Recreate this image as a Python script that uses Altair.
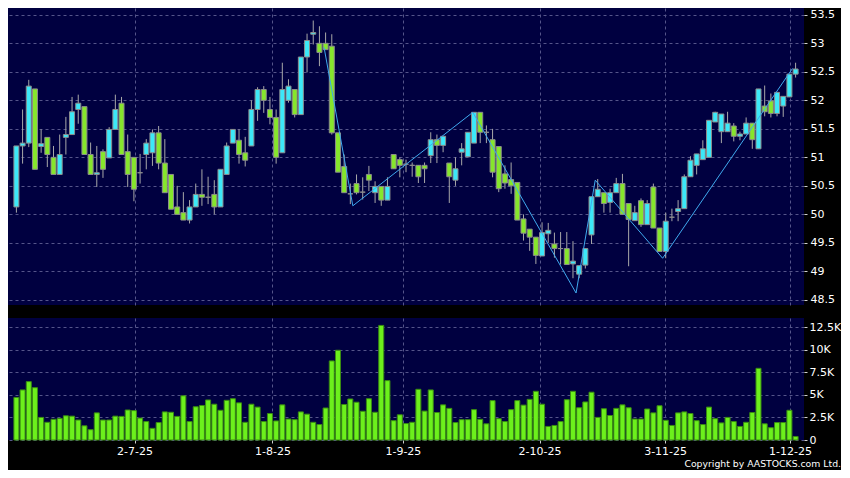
import altair as alt
import pandas as pd

# ---------------- data ----------------
# tick positions expressed in bar-index units (first bar = 0)
tick_idx = [19.1, 41.4, 62.5, 84.6, 104.9, 125.1]
tick_labels = ["2-7-25", "1-8-25", "1-9-25", "2-10-25", "3-11-25", "1-12-25"]

opens = [
    50.13, 51.2, 51.25, 52.2, 51.19, 51.35, 51.0, 50.7, 51.35, 51.4,
    51.84, 51.89, 51.05, 50.7, 51.1, 50.99, 51.49, 51.95, 51.1, 51.0,
    50.73, 51.05, 51.08, 51.43, 50.9, 50.7, 50.13, 50.03, 49.9, 50.13,
    50.35, 50.3, 50.35, 50.13, 50.7, 51.25, 51.3, 51.08, 51.2, 51.84,
    52.19, 51.84, 51.7, 51.08, 52.0, 52.19, 51.75, 52.76, 53.16, 53.0,
    53.0, 52.95, 51.43, 50.84, 50.36, 50.54, 50.39, 50.7, 50.38, 50.49,
    50.25, 51.05, 50.96, 50.88, 50.86, 50.86, 50.86, 51.03, 51.31, 51.21, 50.9,
    50.6, 51.09, 51.01, 51.25, 51.79, 51.44, 51.31, 51.19, 50.71, 50.61,
    50.56, 49.92, 49.74, 49.6, 49.27, 49.66, 49.48, 49.4, 49.4, 49.13,
    48.95, 49.11, 49.64, 50.31, 50.38, 50.21, 50.38, 50.54, 50.19, 49.89,
    50.24, 49.82, 50.48, 49.76, 49.35, 49.95, 50.05, 50.1, 50.66, 50.86,
    50.96, 51.0, 51.62, 51.45, 51.45, 51.55, 51.37, 51.41, 51.6, 51.15,
    51.9, 51.99, 51.77, 51.9, 52.06, 52.46,
]
highs = [
    51.2, 51.84, 52.36, 52.2, 51.49, 51.35, 51.2, 51.4, 51.71, 52.06,
    52.1, 51.89, 51.26, 51.2, 51.14, 51.53, 52.1, 52.06, 51.4, 51.0,
    51.06, 51.32, 51.49, 51.55, 51.32, 50.7, 50.5, 50.39, 50.25, 50.54,
    50.79, 50.66, 50.6, 50.79, 51.26, 51.49, 51.49, 51.36, 52.0, 52.23,
    52.25, 52.06, 51.84, 52.66, 52.37, 52.19, 52.76, 53.17, 53.4, 53.3,
    53.19, 53.16, 51.43, 51.05, 50.54, 50.7, 50.65, 50.85, 50.58, 50.49,
    50.65, 51.05, 51.0, 50.96, 50.91, 50.86, 50.91, 51.44, 51.4, 51.37, 50.9,
    51.0, 51.25, 51.44, 51.79, 51.79, 51.56, 51.5, 51.19, 50.86, 50.91,
    50.56, 50.0, 49.74, 49.6, 49.86, 49.85, 49.68, 49.69, 49.69, 49.53,
    49.1, 49.4, 50.31, 50.62, 50.38, 50.45, 50.64, 50.71, 50.19, 50.15,
    50.28, 50.25, 50.54, 49.76, 50.03, 50.1, 50.25, 50.7, 51.02, 51.06,
    51.3, 51.65, 51.8, 51.76, 51.8, 51.6, 51.45, 51.7, 51.6, 52.2,
    52.26, 52.12, 52.14, 52.07, 52.46, 52.66,
]
lows = [
    50.03, 50.89, 51.18, 50.79, 51.08, 50.83, 50.7, 50.7, 51.05, 51.4,
    51.59, 51.05, 50.7, 50.48, 50.64, 50.99, 51.49, 51.05, 50.48, 50.23,
    50.54, 50.79, 50.85, 50.79, 50.38, 50.09, 50.0, 49.9, 49.84, 50.13,
    50.15, 50.18, 50.0, 50.13, 50.7, 51.25, 50.89, 50.84, 51.2, 51.64,
    51.78, 51.58, 50.89, 51.08, 51.96, 51.7, 51.75, 52.49, 52.98, 52.6,
    52.89, 51.4, 50.74, 50.38, 50.18, 50.35, 50.26, 50.41, 50.2, 50.15,
    50.25, 50.8, 50.65, 50.74, 50.66, 50.55, 50.55, 50.9, 50.9, 51.09, 50.2,
    50.5, 50.86, 51.01, 51.25, 51.25, 51.25, 50.65, 50.39, 50.45, 50.36,
    49.9, 49.54, 49.36, 49.13, 49.27, 49.5, 49.24, 49.12, 49.12, 48.88,
    48.88, 49.05, 49.48, 50.31, 50.03, 50.03, 50.38, 50.0, 49.09, 49.89,
    49.78, 49.82, 49.76, 49.35, 49.23, 49.88, 49.88, 50.1, 50.66, 50.7,
    50.96, 51.0, 51.62, 51.25, 51.45, 51.28, 51.3, 51.41, 51.15, 51.15,
    51.72, 51.7, 51.72, 51.71, 52.06, 52.4,
]
closes = [
    51.2, 51.25, 52.25, 50.79, 51.24, 51.05, 50.7, 51.05, 51.4, 51.8,
    51.95, 51.05, 50.7, 50.73, 50.79, 51.49, 51.84, 51.05, 50.7, 50.44,
    50.73, 51.25, 51.43, 50.9, 50.38, 50.09, 50.0, 49.9, 50.13, 50.35,
    50.3, 50.3, 50.13, 50.79, 51.2, 51.49, 51.05, 50.95, 51.84, 52.19,
    52.0, 51.7, 51.0, 52.19, 52.25, 51.75, 52.76, 53.05, 53.19, 52.84,
    52.89, 51.43, 50.74, 50.38, 50.36, 50.38, 50.39, 50.6, 50.49, 50.25,
    50.49, 50.8, 50.86, 50.88, 50.86, 50.66, 50.8, 51.31, 51.21, 51.37, 50.66,
    50.8, 51.15, 51.44, 51.79, 51.44, 51.44, 50.74, 50.45, 50.55, 50.5,
    49.9, 49.67, 49.6, 49.28, 49.68, 49.72, 49.4, 49.4, 49.12, 49.18,
    49.1, 49.4, 50.31, 50.44, 50.19, 50.38, 50.54, 50.0, 49.91, 50.03,
    49.82, 50.19, 49.76, 49.35, 49.88, 49.95, 50.1, 50.66, 50.95, 51.06,
    51.15, 51.65, 51.79, 51.76, 51.6, 51.37, 51.41, 51.6, 51.31, 52.2,
    51.8, 51.77, 52.14, 52.07, 52.46, 52.55,
]
# volume in thousands
volumes_k = [
    4.71, 5.54, 6.46, 5.79, 2.5, 1.96, 2.29, 2.39, 2.68, 2.64,
    2.21, 1.57, 1.14, 3.0, 2.21, 2.21, 2.64, 2.61, 3.32, 3.25,
    2.43, 2.04, 1.29, 1.93, 3.11, 3.07, 2.61, 4.89, 2.04, 3.68,
    3.82, 4.43, 3.96, 3.29, 4.39, 4.57, 4.11, 1.96, 3.96, 3.64,
    2.04, 2.93, 2.11, 3.89, 2.32, 2.25, 3.11, 2.86, 1.96, 1.71,
    3.54, 8.75, 9.93, 3.93, 4.54, 4.18, 3.18, 4.57, 3.07, 12.68,
    6.57, 2.14, 2.79, 1.82, 1.96, 5.61, 3.2,
    5.54, 3.04, 3.89, 3.5, 1.93, 2.25, 2.25, 3.36, 2.29, 1.79,
    4.36, 2.36, 2.04, 3.36, 4.36, 3.86, 4.5, 5.39, 3.96, 1.5,
    1.61, 2.04, 4.46, 5.39, 3.57, 4.21, 5.29, 2.5, 3.46, 2.71,
    3.5, 3.89, 3.57, 2.32, 2.32, 3.43, 3.0, 3.79, 2.18, 1.61,
    3.0, 3.11, 2.93, 2.14, 1.71, 3.64, 2.36, 1.89, 2.5, 2.04,
    1.5, 1.96, 3.04, 7.93, 1.79, 1.36, 1.93, 1.93, 3.29, 0.39,
]

zig_idx = [49.75, 54.4, 73.8, 90.5, 93.6, 104.5, 125.5]
zig_price = [52.93, 50.15, 51.79, 48.62, 50.6, 49.23, 52.56]

price_ticks = [48.5, 49, 49.5, 50, 50.5, 51, 51.5, 52, 52.5, 53, 53.5]
vol_ticks = [0, 2.5, 5, 7.5, 10, 12.5]
copyright_text = "Copyright by AASTOCKS.com Ltd."

# ---------------- tables ----------------
n = len(closes)
df = pd.DataFrame({
    "i": list(range(n)),
    "open": opens, "high": highs, "low": lows, "close": closes,
    "vol": volumes_k,
})
zig = pd.DataFrame({"i": zig_idx, "p": zig_price})

FONT = "DejaVu Sans"
NAVY = "#000040"
GRID = "#55558a"
UP = "#3ce8f8"
DOWN = "#86e62c"
EDGE = "#8c8c8c"
W = 796

label_expr = ""
for k, lab in zip(tick_idx, tick_labels):
    label_expr += f"abs(datum.value - {k}) < 0.01 ? '{lab}' : "
label_expr += "''"

xscale = alt.Scale(domain=[-0.55, 126.55], nice=False, zero=False)
yscale = alt.Scale(domain=[48.41, 53.62], nice=False, zero=False)


def x_grid_axis():
    return alt.Axis(values=tick_idx, labels=False, ticks=False,
                    domain=False, grid=True)


def price_axis():
    return alt.Axis(orient="right", values=price_ticks, grid=True,
                    labelExpr="format(datum.value, '~g')", labelOverlap=False,
                    tickSize=3, labelPadding=3, domain=False)


base = alt.Chart(df)

wicks = base.mark_rule(color="#a8a8a8", strokeWidth=1).encode(
    x=alt.X("i:Q", scale=xscale, axis=x_grid_axis(), title=None),
    y=alt.Y("low:Q", scale=yscale, axis=price_axis(), title=None),
    y2="high:Q",
)
bodies = base.mark_bar(size=5, stroke=EDGE, strokeWidth=1).encode(
    x=alt.X("i:Q", scale=xscale, axis=x_grid_axis(), title=None),
    y=alt.Y("open:Q", scale=yscale, axis=price_axis(), title=None),
    y2="close:Q",
    color=alt.condition("datum.close >= datum.open", alt.value(UP), alt.value(DOWN)),
)
zigline = alt.Chart(zig).mark_line(color="#3fa9ee", strokeWidth=1).encode(
    x=alt.X("i:Q", scale=xscale, axis=x_grid_axis(), title=None),
    y=alt.Y("p:Q", scale=yscale, axis=price_axis(), title=None),
)
price_panel = alt.layer(wicks, bodies, zigline).properties(width=W, height=297)

vol_bars = base.mark_bar(size=5, color="#6cf01c", stroke="#3a8c12", strokeWidth=1).encode(
    x=alt.X("i:Q", scale=xscale, title=None,
            axis=alt.Axis(values=tick_idx, labelExpr=label_expr, grid=True,
                          labelOverlap=False, tickSize=3, labelPadding=2, domain=False)),
    y=alt.Y("vol:Q", scale=alt.Scale(domain=[0, 13.5], nice=False), title=None,
            axis=alt.Axis(orient="right", values=vol_ticks, grid=True, labelOverlap=False,
                          labelExpr="datum.value == 0 ? '0' : format(datum.value, '~g') + 'K'",
                          tickSize=3, labelPadding=2, domain=False)),
)
copy_txt = alt.Chart(pd.DataFrame({"t": [copyright_text]})).mark_text(
    align="right", baseline="alphabetic", font=FONT, fontSize=9.3, color="#ffffff"
).encode(text="t:N", x=alt.value(833), y=alt.value(149))
vol_panel = alt.layer(vol_bars, copy_txt).properties(width=W, height=122)

chart = alt.vconcat(price_panel, vol_panel, spacing=13).properties(
    background="#000000",
    padding={"left": 0, "top": 0, "right": 0, "bottom": 0},
).configure_view(
    fill=NAVY, stroke=None
).configure_axis(
    labelFont=FONT, labelFontSize=11, labelColor="#ffffff", labelOverlap=False,
    tickColor="#cfcfcf", gridColor=GRID, gridDash=[3, 3], gridWidth=1,
)

chart.save("out.html", embed_options={"renderer": "svg", "actions": False})
